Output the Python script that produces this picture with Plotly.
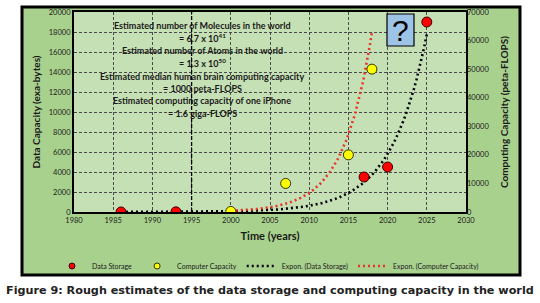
import numpy as np
import plotly.graph_objects as go

# ---- data ----
storage_years = [1986, 1993, 2017, 2020, 2025]
storage_eb = [2.6, 15.8, 3500, 4500, 19000]          # exa-bytes (left axis)
compute_years = [2000, 2007, 2015, 2018]
compute_pflops = [200, 10000, 20000, 50000]          # peta-FLOPS (right axis)

x_ticks = list(range(1980, 2031, 5))
notes = [
    "Estimated number of Molecules in the world",
    "= 6.7 x 10<sup>41</sup>",
    "Estimated number of Atoms in the world",
    "= 1.3 x 10<sup>50</sup>",
    "Estimated median human brain computing capacity",
    "= 1000 peta-FLOPS",
    "Estimated computing capacity of one iPhone",
    "= 1.6 giga-FLOPS",
]
caption = "Figure 9: Rough estimates of the data storage and computing capacity in the world"
MARK_YEAR = 1995

# ---- exponential trendlines (least squares on log values, like Excel) ----
def expon_fit(xs, ys, n=120):
    b, a = np.polyfit(np.array(xs, float), np.log(np.array(ys, float)), 1)
    xx = np.linspace(min(xs), max(xs), n)
    return xx, np.exp(a + b * xx)

sx, sy = expon_fit(storage_years, storage_eb)
cx, cy = expon_fit(compute_years, compute_pflops)

# ---- geometry (pixels) ----
W, H = 540, 303
L, R, T, B = 74, 74, 12, 91
PW, PH = W - L - R, H - T - B

def px(xp):
    return (xp - L) / PW

def py(yp):
    return (H - B - yp) / PH

OUTER = "#a9d18e"
INNER = "#c5e0b4"
TXT = "#1a1a1a"
FONT = "Lato"

fig = go.Figure()

dot = "2px,3px"
fig.add_trace(go.Scatter(x=sx, y=sy, mode="lines", yaxis="y",
                         line=dict(color="black", width=2.6, dash=dot),
                         showlegend=False, hoverinfo="skip"))
fig.add_trace(go.Scatter(x=cx, y=cy, mode="lines", yaxis="y2",
                         line=dict(color="#e8342a", width=2.6, dash=dot),
                         showlegend=False, hoverinfo="skip"))
fig.add_trace(go.Scatter(x=storage_years, y=storage_eb, mode="markers", yaxis="y",
                         marker=dict(color="#ff0000", size=10,
                                     line=dict(color="#3a0000", width=1)),
                         showlegend=False))
fig.add_trace(go.Scatter(x=compute_years, y=compute_pflops, mode="markers", yaxis="y2",
                         marker=dict(color="#ffff00", size=10,
                                     line=dict(color="#333300", width=1)),
                         showlegend=False))

# legend-only entries (smaller symbols, as in the reference)
fig.add_trace(go.Scatter(x=[None], y=[None], mode="markers", name="Data Storage",
                         marker=dict(color="#ff0000", size=6, line=dict(color="#3a0000", width=1))))
fig.add_trace(go.Scatter(x=[None], y=[None], mode="markers", name="Computer Capacity",
                         marker=dict(color="#ffff00", size=6, line=dict(color="#333300", width=1))))
fig.add_trace(go.Scatter(x=[None], y=[None], mode="lines", name="Expon. (Data Storage)",
                         line=dict(color="black", width=2.6, dash=dot)))
fig.add_trace(go.Scatter(x=[None], y=[None], mode="lines", name="Expon. (Computer Capacity)",
                         line=dict(color="#e8342a", width=2.6, dash=dot)))

shapes = [
    # outer green frame with black border
    dict(type="rect", xref="paper", yref="paper", layer="below",
         x0=px(22), x1=px(520), y0=py(275), y1=py(7),
         fillcolor=OUTER, line=dict(color="black", width=3)),
    # inner plot area
    dict(type="rect", xref="paper", yref="paper", layer="below",
         x0=0, x1=1, y0=0, y1=1, fillcolor=INNER, line=dict(width=0)),
    # heavier dashed line at 1995
    dict(type="line", xref="x", yref="paper", x0=MARK_YEAR, x1=MARK_YEAR, y0=0, y1=1,
         line=dict(color="black", width=1.3, dash="4px,2px")),
    # question box
    dict(type="rect", xref="paper", yref="paper",
         x0=px(387), x1=px(414), y0=py(46), y1=py(14),
         fillcolor="#9dc3e6", line=dict(color="black", width=1.2)),
]

annotations = []
for i, t in enumerate(notes):
    annotations.append(dict(xref="paper", yref="paper", x=px(202), y=py(26 + 12.5 * i),
                            text="<b>" + t + "</b>", showarrow=False,
                            xanchor="center", yanchor="middle",
                            font=dict(family=FONT, size=9, color=TXT)))
annotations.append(dict(xref="paper", yref="paper", x=px(400.5), y=py(31),
                        text="?", showarrow=False, xanchor="center", yanchor="middle",
                        font=dict(family="Liberation Sans", size=30, color="black")))
annotations.append(dict(xref="paper", yref="paper", x=px(270), y=py(290),
                        text="<b>" + caption + "</b>", showarrow=False,
                        xanchor="center", yanchor="middle",
                        font=dict(family="DejaVu Sans", size=11.2, color="#222222")))

grid = dict(showgrid=True, gridcolor="#4a4a4a", gridwidth=1, griddash="3px,2px")

fig.update_layout(
    width=W, height=H, autosize=False,
    margin=dict(l=L, r=R, t=T, b=B, autoexpand=False),
    paper_bgcolor="white", plot_bgcolor="rgba(0,0,0,0)",
    font=dict(family=FONT, color=TXT),
    xaxis=dict(range=[1980, 2030], tickvals=x_ticks, ticktext=[str(v) for v in x_ticks],
               showline=True, linecolor="black", linewidth=2, mirror=True,
               zeroline=False, ticks="", tickfont=dict(size=7.5, color=TXT),
               title=dict(text="<b>Time (years)</b>", font=dict(size=11, color=TXT),
                          standoff=8),
               **grid),
    yaxis=dict(range=[0, 20000], dtick=2000, tick0=0, tickformat="d",
               showline=True, linecolor="black", linewidth=2, mirror=True,
               zeroline=False, ticks="", tickfont=dict(size=7.5, color=TXT),
               title=dict(text="<b>Data Capacity (exa-bytes)</b>",
                          font=dict(size=10, color=TXT), standoff=6),
               **grid),
    yaxis2=dict(range=[0, 70000], dtick=10000, tick0=0, tickformat="d",
                overlaying="y", side="right",
                showgrid=False, zeroline=False, showline=False, ticks="",
                tickfont=dict(size=7.5, color=TXT),
                title=dict(text="<b>Computing Capacity (peta-FLOPS)</b>",
                           font=dict(size=10, color=TXT), standoff=12)),
    legend=dict(orientation="h", x=px(52), xanchor="left",
                y=py(266), yanchor="middle",
                bgcolor="rgba(0,0,0,0)", font=dict(size=7, color=TXT),
                itemwidth=30, tracegroupgap=0),
    shapes=shapes,
    annotations=annotations,
)

fig.write_html("out.html")
